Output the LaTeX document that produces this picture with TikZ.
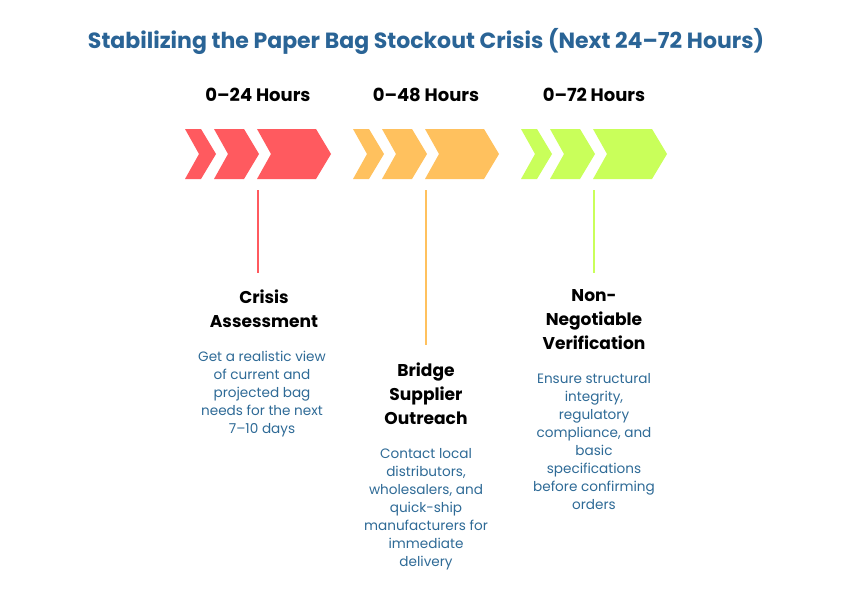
\documentclass[tikz,border=0pt]{standalone}
\usepackage{fontspec}
\setmainfont{Poppins}
\definecolor{titleblue}{RGB}{42,100,150}
\definecolor{descblue}{RGB}{46,106,150}
\definecolor{redc}{RGB}{255,90,95}
\definecolor{orangec}{RGB}{255,193,94}
\definecolor{greenc}{RGB}{201,255,90}
\tikzset{every picture/.style={line width=0.75pt},
  hourlabel/.style={font=\fontsize{13.5}{16}\selectfont\bfseries},
  headtext/.style={anchor=north,align=center,inner sep=0pt,font=\fontsize{12.8}{18}\selectfont\bfseries},
  desctext/.style={anchor=north,align=center,inner sep=0pt,text=descblue,font=\fontsize{10.2}{13.5}\selectfont}}

\begin{document}
\begin{tikzpicture}[x=0.75pt,y=0.75pt,yscale=-1,xscale=1]
	\useasboundingbox (0,0) rectangle (852,600);
	
	% Title
	\node (title) at (426,41) [font=\fontsize{16.5}{20}\selectfont\bfseries,text=titleblue] {Stabilizing the Paper Bag Stockout Crisis (Next 24--72 Hours)};
	
	% Chevron groups
	\foreach \dx/\col/\hr in {0/redc/0--24 Hours,168/orangec/0--48 Hours,336/greenc/0--72 Hours}{
		\begin{scope}[xshift=\dx*0.75pt]
		\fill [\col] (185,129) -- (201,129) -- (216,154) -- (201,179) -- (185,179) -- (199,154) -- cycle ;
		\fill [\col] (214,129) -- (244,129) -- (259,154) -- (244,179) -- (214,179) -- (228,154) -- cycle ;
		\fill [\col] (257,129) -- (316,129) -- (331,154) -- (316,179) -- (257,179) -- (271,154) -- cycle ;
		\node [hourlabel] at (258,95) {\hr};
		\end{scope}
	}
	
	% Stems
	\coordinate (s1) at (258,190);
	\coordinate (e1) at (258,273);
	\coordinate (s2) at (426,190);
	\coordinate (e2) at (426,345);
	\coordinate (s3) at (594,190);
	\coordinate (e3) at (594,273);
	\draw [redc,line width=1.5] (s1) -- (e1) ;
	\draw [orangec,line width=1.5] (s2) -- (e2) ;
	\draw [greenc,line width=1.5] (s3) -- (e3) ;
	
	% Text Node
	\node (h1) [headtext] at (264,289) {Crisis\\Assessment};
	\node (d1) [desctext] at (262,351) {Get a realistic view\\of current and\\projected bag\\needs for the next\\7--10 days};
	% Text Node
	\node (h2) [headtext] at (426,362) {Bridge\\Supplier\\Outreach};
	\node (d2) [desctext] at (426,448) {Contact local\\distributors,\\wholesalers, and\\quick-ship\\manufacturers for\\immediate\\delivery};
	% Text Node
	\node (h3) [headtext] at (594,289) {Non-\\Negotiable\\Verification};
	\node (d3) [desctext] at (594,373) {Ensure structural\\integrity,\\regulatory\\compliance, and\\basic\\specifications\\before confirming\\orders};
	
\end{tikzpicture}
\end{document}
